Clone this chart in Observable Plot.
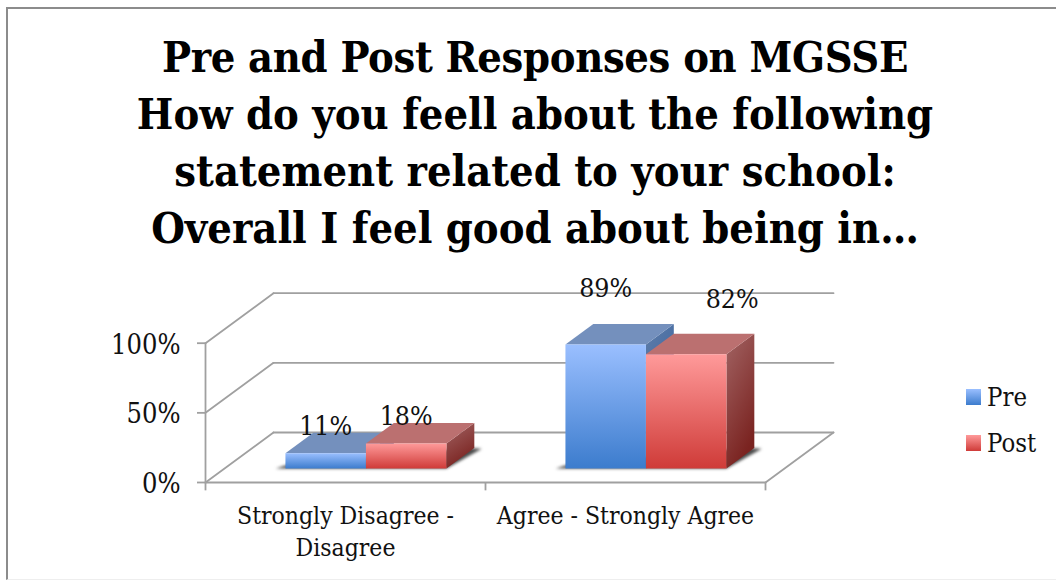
<!DOCTYPE html>
<html><head><meta charset="utf-8">
<script src="https://cdn.jsdelivr.net/npm/d3@7"></script>
<script src="https://cdn.jsdelivr.net/npm/@observablehq/plot@0.6"></script>
<style>
html,body{margin:0;padding:0;background:#fff;overflow:hidden}
#frame{position:absolute;left:6px;top:7px;width:1060px;height:573px;border:2px solid #8c8c8c;border-bottom:1px solid #eee;box-sizing:border-box}
#title{position:absolute;left:0;top:0;width:1070px;height:272px;padding-top:29px;box-sizing:border-box;text-align:center;font:bold 43px/57px "DejaVu Serif Condensed","DejaVu Serif",serif;font-stretch:condensed;color:#000}
#title div:first-child{letter-spacing:-0.35px}
#chart{position:absolute;left:0;top:272px}
.lg{position:absolute;left:966px;font:25.5px "DejaVu Serif Condensed","DejaVu Serif",serif;font-stretch:condensed;color:#111;line-height:24px}
.lg i{position:absolute;left:0;top:4px;width:15px;height:16px}
.lg span{position:absolute;left:21px;top:0}
g[fill="#4a4a4a"]{filter:blur(1.5px)}
</style></head><body>
<div id="frame"></div>
<div id="title"></div>
<div id="chart"></div>
<div class="lg" style="top:385px"><i style="background:linear-gradient(#9abfff,#3c7ccd)"></i><span>Pre</span></div>
<div class="lg" style="top:431px"><i style="background:linear-gradient(#ff9a9a,#cf3b38)"></i><span>Post</span></div>
<script>
const titleLines = ["Pre and Post Responses on MGSSE","How do you feell about the following","statement related to your school:","Overall I feel good about being in\u2026"];
const categories = ["Strongly Disagree -\nDisagree","Agree - Strongly Agree"];
const pre = [11,89];
const post = [18,82];
const yTicks = [0,50,100];

// layout of the pseudo-3D box, in data units
const DX = 68/280, DY = 35.9, Z0 = 0.28, Z1 = 0.69, BAR = 0.2875, SHIFT = 0.505;
const FONT = '"DejaVu Serif Condensed","DejaVu Serif",serif';
const INK = "#111", GRID = "#a0a0a0";
const labelNudge = [[{dx:0,dy:-27},{dx:0,dy:-27}],[{dx:0,dy:-56},{dx:46,dy:-55}]];
const P = (x,y,z)=>({x:x+z*DX,y:y+z*DY});
const seg = (pts)=>Plot.line(pts,{x:"x",y:"y",stroke:GRID,strokeWidth:1.8});

document.getElementById("title").innerHTML = titleLines.map(t=>`<div>${t}</div>`).join("");

const defs = ()=>{
  const s = d3.create("svg:defs");
  const g=(id,a,b,diag)=>{const l=s.append("linearGradient").attr("id",id).attr("x1",0).attr("y1",0).attr("x2",diag?0.4:0).attr("y2",1);
    l.append("stop").attr("offset",0).attr("stop-color",a);l.append("stop").attr("offset",1).attr("stop-color",b);};
  g("preFront","#9abfff","#3c7ccd");g("postFront","#ff9a9a","#cf3b38");
  g("preSide","#5f7ca8","#2f5f9f",true);g("postSide","#a26464","#7a2320",true);
  return s.node();
};

const face=(pts,fill)=>Plot.line(pts,{x:"x",y:"y",fill,stroke:"none"});
const shadows=[], bars=[], labels=[];
categories.forEach((c,i)=>{
  const l=i+SHIFT-BAR, m=i+SHIFT, r=i+SHIFT+BAR;
  shadows.push(Plot.line([P(l-0.035,0,Z0),P(r,0,Z0),P(r+0.03,0,Z1-0.015),P(r-0.02,0,Z1),P(l-0.005,0,Z0+0.09)],{x:"x",y:"y",fill:"#4a4a4a",stroke:"none"}));
  [[l,m,pre[i],"pre","#7490bd"],[m,r,post[i],"post","#bb7070"]].forEach(([a,b,v,k,top],j)=>{
    bars.push(face([P(b,0,Z0),P(b,0,Z1),P(b,v,Z1),P(b,v,Z0)],`url(#${k}Side)`));
    bars.push(face([P(a,v,Z0),P(b,v,Z0),P(b,v,Z1),P(a,v,Z1)],top));
    bars.push(face([P(a,0,Z0),P(b,0,Z0),P(b,v,Z0),P(a,v,Z0)],`url(#${k}Front)`));
    const n=labelNudge[i][j], f=P((a+b)/2,v,Z0);
    labels.push(Plot.text([{x:f.x,y:f.y,t:v+"%"}],{x:"x",y:"y",text:"t",dx:n.dx,dy:n.dy,fontSize:26.5,fill:INK}));
  });
});

const plot = Plot.plot({
  width:1056,height:310,marginLeft:205,marginRight:291,marginTop:70.7,marginBottom:100,
  style:{fontFamily:FONT,fontStretch:"condensed",background:"transparent",overflow:"visible"},
  x:{domain:[0,2],axis:null},y:{domain:[0,100],axis:null},
  marks:[
    defs,
    ...yTicks.map(t=>seg([P(0,t,1),P(2,t,1)])),
    ...yTicks.map(t=>seg([P(0,t,0),P(0,t,1)])),
    seg([P(2,0,0),P(2,0,1)]),
    seg([P(0,0,0),P(2,0,0)]),
    seg([P(0,0,0),P(0,100,0)]),
    Plot.ruleY(yTicks,{y:d=>d,x1:-8/280,x2:0,stroke:GRID,strokeWidth:1.8}),
    Plot.axisY({ticks:yTicks,tickFormat:d=>d+"%",tickSize:0,tickPadding:25,dy:2,fontSize:27,fill:INK,label:null}),
    Plot.ruleX([0,1,2],{x:d=>d,y1:0,y2:-6,stroke:GRID,strokeWidth:1.8}),
    ...shadows,
    ...bars,
    ...labels,
    Plot.text(categories,{x:(d,i)=>i+0.5,y:0,text:d=>d,dy:19,lineAnchor:"top",fontSize:24.5,lineHeight:1.31,fill:INK})
  ]
});
document.getElementById("chart").appendChild(plot);
</script></body></html>
